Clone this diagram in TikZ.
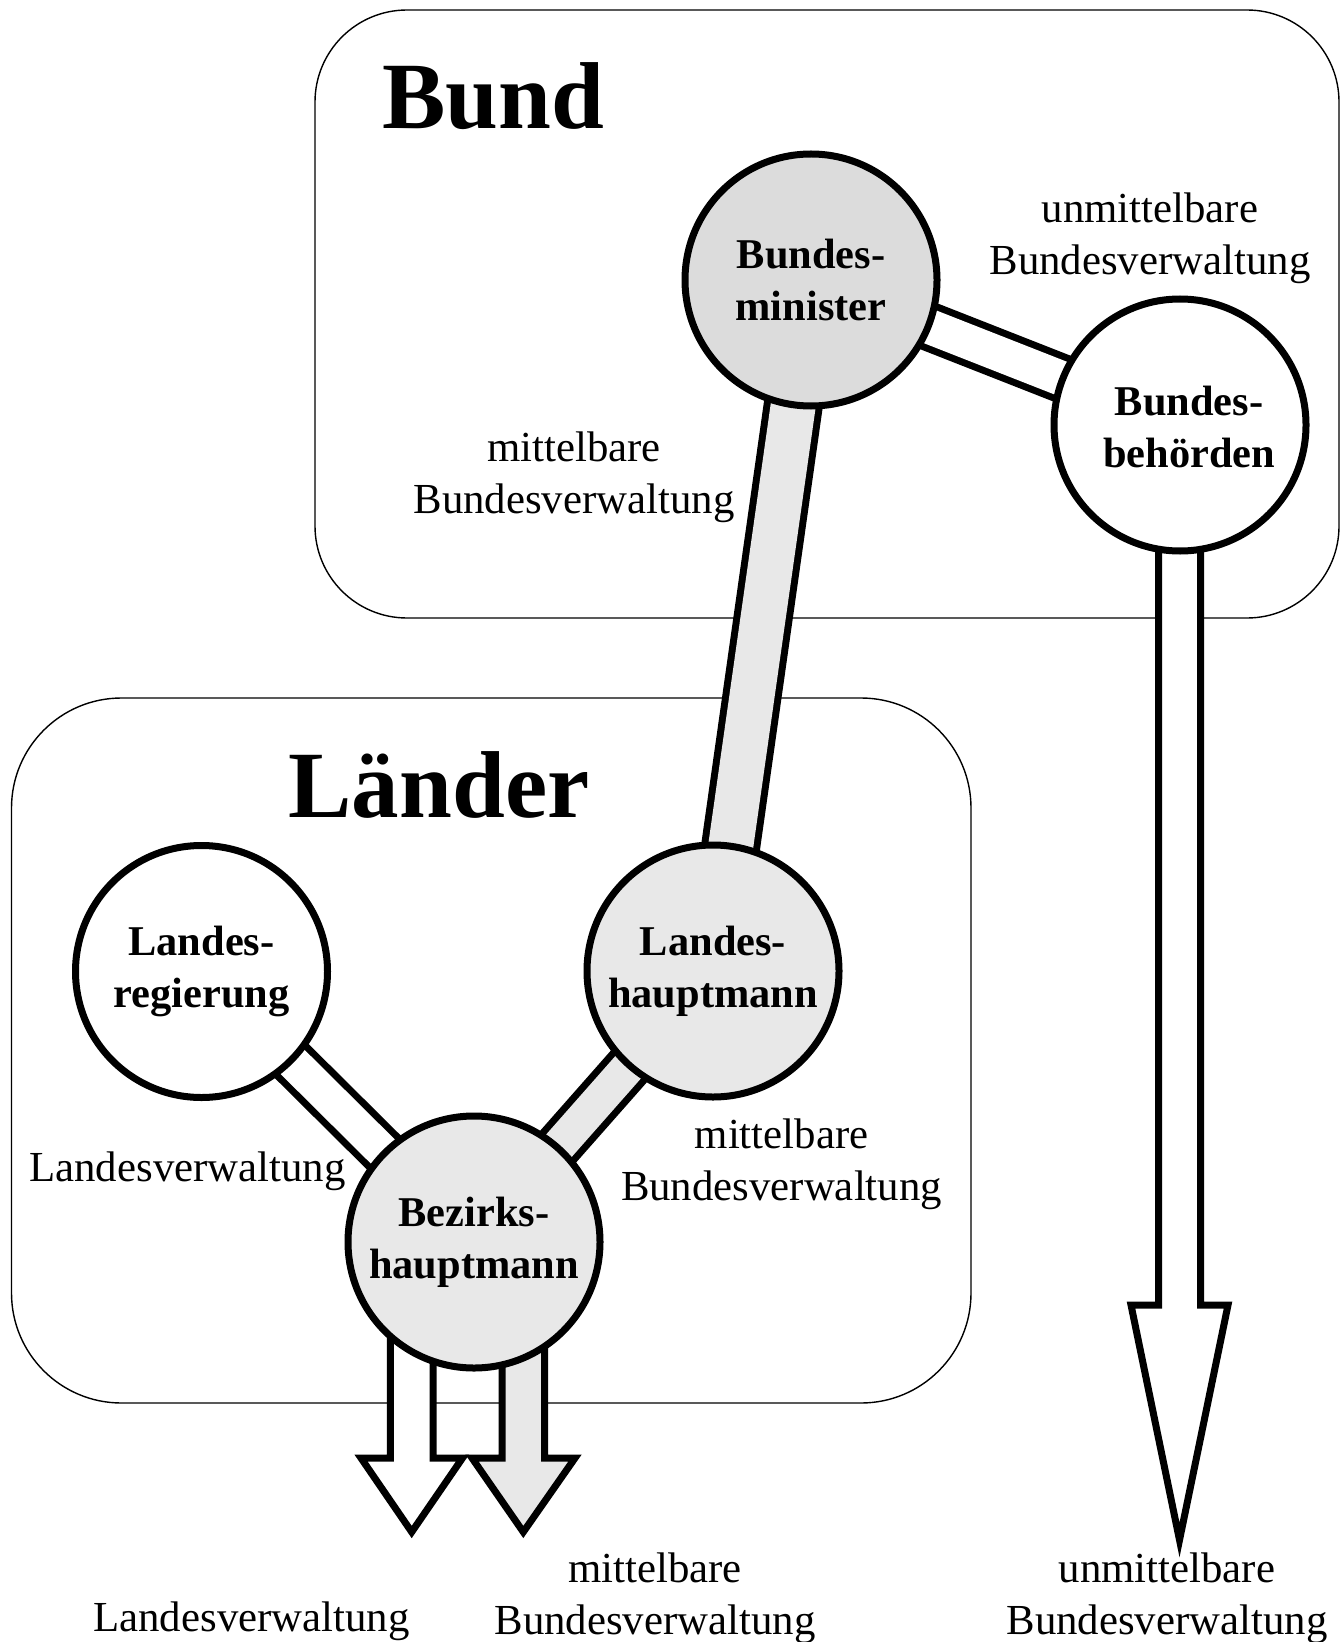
\documentclass[tikz,border=0pt]{standalone}
\usepackage{fontspec}
\setmainfont{Liberation Serif}
\definecolor{lgrey}{HTML}{E8E8E8}
\definecolor{mgrey}{HTML}{DCDCDC}
\begin{document}
\begin{tikzpicture}[x=0.5pt,y=-0.5pt,
  every node/.style={inner sep=0pt,outer sep=0pt},
  region/.style={draw,line width=0.7pt,rounded corners=#1},
  org/.style={circle,draw,line width=3.5pt,minimum size=126pt,fill=white,
     font=\fontsize{21.2}{26}\selectfont\bfseries,align=center},
  orgtext/.style={font=\fontsize{21.2}{26}\selectfont\bfseries,align=center},
  band/.style={line width=3.5pt,double=#1},
  bigarrow/.style={draw,line width=3.5pt,miter limit=20,fill=#1},
  lbl/.style={font=\fontsize{21.4}{26}\selectfont,align=center,anchor=base},
  title/.style={font=\fontsize{47.5}{50}\selectfont\bfseries,anchor=base}]
\useasboundingbox (0,0) rectangle (1343,1642);
\fill[white] (0,0) rectangle (1343,1642);
% region boxes
\draw[region=46pt] (315,10) rectangle (1339,618);
\draw[region=55pt] (11.5,698) rectangle (971,1403);
% circle positions
\coordinate (pmin) at (811,280);
\coordinate (pbeh) at (1180,425);
\coordinate (preg) at (201.5,971.5);
\coordinate (plhm) at (713,971);
\coordinate (pbhm) at (474,1242);
% bands
\draw[band=lgrey,double distance=22.5pt] (pmin) -- (plhm);
\draw[band=white,double distance=17.5pt] (pmin) -- (pbeh);
\draw[band=white,double distance=17pt] (preg) -- (pbhm);
\draw[band=lgrey,double distance=17pt] (plhm) -- (pbhm);
% big arrows
\draw[bigarrow=white] (1158.5,425) -- (1158.5,1305) -- (1131,1305) -- (1179.5,1540)
   -- (1228,1305) -- (1200.5,1305) -- (1200.5,425);
\draw[bigarrow=white] (390.3,1242) -- (390.3,1458) -- (361,1458) -- (411.7,1532)
   -- (462.5,1458) -- (433,1458) -- (433,1242);
\draw[bigarrow=lgrey] (502,1242) -- (502,1458) -- (472,1458) -- (523.3,1532)
   -- (575,1458) -- (544.5,1458) -- (544.5,1242);
% circles
\node[org,fill=mgrey] (min) at (pmin) {Bundes-\\minister};
\node[org] (beh) at (pbeh) {};
\node[orgtext] (behtext) at ([xshift=4.5pt,yshift=-1pt]pbeh) {Bundes-\\behörden};
\node[org] (reg) at (preg) {Landes-\\regierung};
\node[org,fill=lgrey] (lhm) at (plhm) {Landes-\\hauptmann};
\node[org,fill=lgrey] (bhm) at (pbhm) {Bezirks-\\hauptmann};
% titles
\node[title] (bund) at (493.5,128.5) {Bund};
\node[title] (laender) at (439,817) {Länder};
% labels (two-line labels anchored at the last line's baseline)
\node[lbl] (l1) at (1150,274.5) {unmittelbare\\Bundesverwaltung};
\node[lbl] (l2) at (574,513) {mittelbare\\Bundesverwaltung};
\node[lbl] (l3) at (781.5,1200) {mittelbare\\Bundesverwaltung};
\node[lbl] (l4) at (187.5,1181) {Landesverwaltung};
\node[lbl] (l5) at (251.5,1631) {Landesverwaltung};
\node[lbl] (l6) at (655,1634) {mittelbare\\Bundesverwaltung};
\node[lbl] (l7) at (1167,1634) {unmittelbare\\Bundesverwaltung};
\end{tikzpicture}
\end{document}
